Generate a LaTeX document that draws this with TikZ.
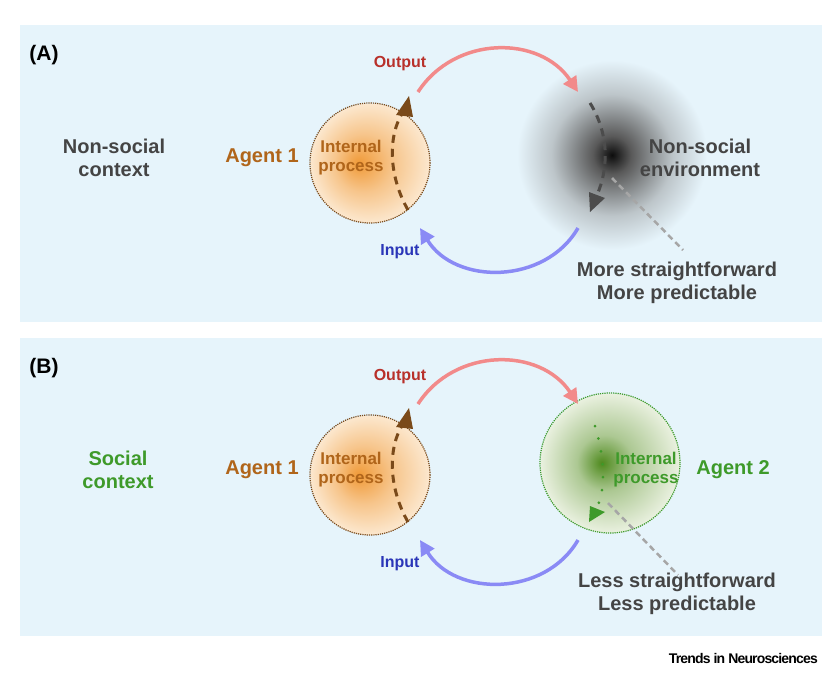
\documentclass[tikz,border=0pt]{standalone}
\usepackage{fontspec}
\setmainfont{Liberation Sans}
\usetikzlibrary{arrows.meta}
\definecolor{bg}{HTML}{E6F4FB}
\definecolor{oc}{HTML}{F09A38}
\definecolor{ol}{HTML}{FCE8CF}
\definecolor{gc}{HTML}{4F8A1E}
\definecolor{gl}{HTML}{EAF1E0}
\definecolor{brown}{HTML}{B0651A}
\definecolor{dbrown}{HTML}{7A4A1A}
\definecolor{outc}{HTML}{B8302A}
\definecolor{inc}{HTML}{2A35B8}
\definecolor{grn}{HTML}{3E9A2A}
\definecolor{txt}{HTML}{444444}
\definecolor{outl}{HTML}{F28A8A}
\definecolor{inl}{HTML}{8A8AF5}
\pgfdeclareradialshading{agentO}{\pgfpoint{-5bp}{0bp}}{color(0bp)=(oc);color(12bp)=(oc!45!ol);color(25bp)=(ol)}
\pgfdeclareradialshading{agentG}{\pgfpoint{-3bp}{0bp}}{color(0bp)=(gc);color(10bp)=(gc!40!gl);color(25bp)=(gl)}
\pgfdeclareradialshading{blob}{\pgfpoint{0bp}{0bp}}{color(0bp)=(black!95);color(5bp)=(black!65);color(16bp)=(bg!60!gray);color(25bp)=(bg)}
\begin{document}
\begin{tikzpicture}[x=1pt,y=-1pt,
  lab/.style={font=\bfseries, align=center, inner sep=0pt},
  big/.style={font=\bfseries\fontsize{20}{23}\selectfont},
  mid/.style={font=\bfseries\fontsize{17}{19}\selectfont},
  sml/.style={font=\bfseries\fontsize{16}{19}\selectfont},
  outarr/.style={line width=3.5pt, draw=outl, -{Triangle[length=15pt,width=15pt]}},
  inarr/.style={line width=3.5pt, draw=inl, -{Triangle[length=15pt,width=15pt]}},
  dasharr/.style={line width=3pt, dash pattern=on 8pt off 6pt},
  pointer/.style={line width=2.5pt, draw=gray!70, dash pattern=on 6pt off 4pt}]
\useasboundingbox (0,0) rectangle (832,678);
\fill[white] (0,0) rectangle (832,678);
\fill[bg] (20,25) rectangle (822,322);
\fill[bg] (20,338) rectangle (822,636);

% ===== Panel A =====
\node[lab, font=\bfseries\fontsize{21}{24}\selectfont] (lA) at (44,55) {(A)};
\node[lab, text=txt, big] (ctxA) at (114,158) {Non-social\\context};
\shade[shading=agentO] (370,163) circle (60);
\node[circle, minimum size=120pt, draw=dbrown, densely dotted, line width=1.2pt] (a1) at (370,163) {};
\node[lab, text=brown, big] (a1l) at (262,158) {Agent 1};
\node[lab, text=brown, mid] (ipA) at (351,158) {Internal\\process};
\coordinate (ia0) at (408,210); \coordinate (ia1) at (409,96);
\draw[dasharr, draw=dbrown] (ia0) .. controls (388,175) and (388,135) .. (403,112);
\fill[dbrown] (ia1) -- (396,115) -- (413,117) -- cycle;
\shade[shading=blob] (612,155) circle (95);
\node[lab, text=txt, big] (env) at (700,158) {Non-social\\environment};
\coordinate (ea0) at (590,103); \coordinate (ea1) at (590,212);
\draw[dasharr, draw=black!70] (ea0) .. controls (610,135) and (608,170) .. (597,195);
\fill[black!70] (ea1) -- (589,192) -- (605,198) -- cycle;
\coordinate (o0) at (418,92); \coordinate (o1) at (578,92);
\draw[outarr] (o0) .. controls (455,35) and (540,35) .. (o1);
\node[lab, text=outc, sml] (outA) at (400,64) {Output};
\coordinate (i0) at (578,228); \coordinate (i1) at (420,228);
\draw[inarr] (i0) .. controls (545,285) and (455,285) .. (i1);
\node[lab, text=inc, sml] (inA) at (400,252) {Input};
\coordinate (pA0) at (612,178); \coordinate (pA1) at (683,250);
\draw[pointer] (pA0) -- (pA1);
\node[lab, text=txt, big] (mA) at (677,283) {More straightforward\\More predictable};

% ===== Panel B =====
\node[lab, font=\bfseries\fontsize{21}{24}\selectfont] (lB) at (44,368) {(B)};
\node[lab, text=grn, big] (ctxB) at (118,470) {Social\\context};
\shade[shading=agentO] (370,475) circle (60);
\node[circle, minimum size=120pt, draw=dbrown, densely dotted, line width=1.2pt] (a1b) at (370,475) {};
\node[lab, text=brown, big] (a1bl) at (262,470) {Agent 1};
\node[lab, text=brown, mid] (ipB) at (351,470) {Internal\\process};
\coordinate (ib0) at (408,522); \coordinate (ib1) at (409,408);
\draw[dasharr, draw=dbrown] (ib0) .. controls (388,487) and (388,447) .. (403,424);
\fill[dbrown] (ib1) -- (396,427) -- (413,429) -- cycle;
\shade[shading=agentG] (610,463) circle (70);
\node[circle, minimum size=140pt, draw=grn, densely dotted, line width=1.2pt] (a2) at (610,463) {};
\node[lab, text=grn, big] (a2l) at (733,470) {Agent 2};
\node[lab, text=grn, mid] (ipB2) at (646,470) {Internal\\process};
\coordinate (gb0) at (595,426); \coordinate (gb1) at (589,522);
\draw[line width=3pt, grn, dash pattern=on 0pt off 13pt, line cap=round] (gb0) .. controls (604,455) and (606,485) .. (598,505);
\fill[grn] (gb1) -- (590,506) -- (605,512) -- cycle;
\coordinate (o0b) at (418,404); \coordinate (o1b) at (578,404);
\draw[outarr] (o0b) .. controls (455,347) and (540,347) .. (o1b);
\node[lab, text=outc, sml] (outB) at (400,377) {Output};
\coordinate (i0b) at (578,540); \coordinate (i1b) at (420,540);
\draw[inarr] (i0b) .. controls (545,597) and (455,597) .. (i1b);
\node[lab, text=inc, sml] (inB) at (400,564) {Input};
\coordinate (pB0) at (608,503); \coordinate (pB1) at (678,575);
\draw[pointer] (pB0) -- (pB1);
\node[lab, text=txt, big] (mB) at (677,594) {Less straightforward\\Less predictable};

\node[lab, anchor=east, font=\bfseries\fontsize{14}{16}\selectfont\addfontfeatures{LetterSpace=-6}] (tn) at (818,658) {Trends in Neurosciences};
\end{tikzpicture}
\end{document}
